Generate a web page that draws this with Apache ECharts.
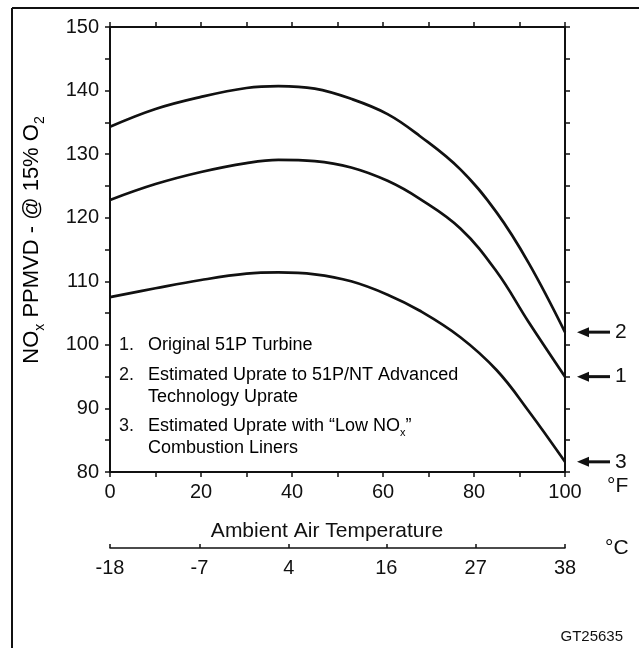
<!DOCTYPE html>
<html>
<head>
<meta charset="utf-8">
<script src="https://cdn.jsdelivr.net/npm/echarts@6/dist/echarts.min.js"></script>
<style>
  html, body { margin: 0; padding: 0; background: #fff; }
  #chart { width: 639px; height: 648px; }
</style>
</head>
<body>
<div id="chart"></div>
<script>
// ambient temperature, deg F
const tempF = [0, 10, 20, 30, 37, 45, 53, 61, 68, 77, 85, 92, 100]
// NOx ppmvd @ 15% O2
const uprate51PNT = [134.3, 137.1, 139.0, 140.4, 140.7, 140.3, 138.7, 136.3, 132.9, 127.6, 120.8, 112.9, 102.0]
const original51P = [122.8, 125.3, 127.2, 128.6, 129.1, 128.9, 127.9, 125.8, 123.0, 118.3, 111.5, 103.6, 95.0]
const lowNOx = [107.5, 108.9, 110.2, 111.2, 111.4, 111.1, 110.0, 107.9, 105.4, 101.2, 96.0, 89.6, 81.6]
// celsius scale labels
const tempCTicks = [-18, -7, 4, 16, 27, 38]

const legendLines = [
  { num: '1.', text: 'Original 51P Turbine', y: 345 },
  { num: '2.', text: 'Estimated Uprate to 51P/NT Advanced', y: 375 },
  { num: '', text: 'Technology Uprate', y: 397 },
  { num: '3.', text: 'Estimated Uprate with \u201cLow NO{s|x}\u201d', y: 426 },
  { num: '', text: 'Combustion Liners', y: 448 }
]

const FONT = '"Liberation Sans", Arial, Helvetica, sans-serif'
const INK = '#111'

const chart = echarts.init(document.getElementById('chart'), null, { renderer: 'canvas' })

const tickStyle = { color: INK, width: 1.5 }
const lineStyle = { color: INK, width: 2 }

const mkSeries = (name, vals) => ({
  name,
  type: 'line',
  data: tempF.map((f, i) => [f, vals[i]]),
  smooth: 0.4,
  symbol: 'none',
  lineStyle: { color: INK, width: 2.7 },
  silent: true,
  animation: false
})

const option = {
  backgroundColor: '#fff',
  animation: false,
  grid: { left: 110, top: 27, width: 455, height: 445 },
  xAxis: [
    {
      type: 'value', position: 'bottom', min: 0, max: 100, interval: 20,
      axisLine: { show: true, onZero: false, lineStyle },
      axisTick: { show: true, length: 5, lineStyle: tickStyle },
      minorTick: { show: true, splitNumber: 2, length: 5, lineStyle: tickStyle },
      splitLine: { show: false },
      axisLabel: { color: INK, fontSize: 20, fontFamily: FONT, margin: 10 },
      name: '\u00b0F', nameLocation: 'end', nameGap: 42,
      nameTextStyle: { color: INK, fontSize: 21, fontFamily: FONT, align: 'left', verticalAlign: 'top', padding: [4, 0, 0, 0] }
    },
    {
      type: 'value', position: 'top', min: 0, max: 100, interval: 10,
      axisLine: { show: true, onZero: false, lineStyle },
      axisTick: { show: true, length: 5, lineStyle: tickStyle },
      splitLine: { show: false },
      axisLabel: { show: false }
    },
    {
      type: 'value', position: 'bottom', offset: 76, min: -18, max: 38,
      axisLine: { show: true, onZero: false, lineStyle: { color: INK, width: 1.5 } },
      axisTick: { show: true, inside: true, length: 4, lineStyle: tickStyle, customValues: tempCTicks },
      splitLine: { show: false },
      axisLabel: { color: INK, fontSize: 20, fontFamily: FONT, margin: 10, customValues: tempCTicks },
      name: '\u00b0C', nameLocation: 'end', nameGap: 40,
      nameTextStyle: { color: INK, fontSize: 21, fontFamily: FONT, align: 'left', verticalAlign: 'middle' }
    }
  ],
  yAxis: [
    {
      type: 'value', position: 'left', min: 80, max: 150, interval: 10,
      axisLine: { show: true, onZero: false, lineStyle },
      axisTick: { show: true, length: 5, lineStyle: tickStyle },
      minorTick: { show: true, splitNumber: 2, length: 5, lineStyle: tickStyle },
      splitLine: { show: false },
      axisLabel: { color: INK, fontSize: 20, fontFamily: FONT, margin: 11 }
    },
    {
      type: 'value', position: 'right', min: 80, max: 150, interval: 10,
      axisLine: { show: true, onZero: false, lineStyle },
      axisTick: { show: true, length: 5, lineStyle: tickStyle },
      minorTick: { show: true, splitNumber: 2, length: 5, lineStyle: tickStyle },
      splitLine: { show: false },
      axisLabel: { show: false }
    }
  ],
  series: [
    mkSeries('2. Estimated Uprate to 51P/NT Advanced Technology Uprate', uprate51PNT),
    mkSeries('1. Original 51P Turbine', original51P),
    mkSeries('3. Estimated Uprate with "Low NOx" Combustion Liners', lowNOx)
  ]
}

chart.setOption(option)

const subRich = {
  a: { fontSize: 18, fontFamily: FONT, color: INK, lineHeight: 24, verticalAlign: 'middle' },
  s: { fontSize: 11, fontFamily: FONT, color: INK, lineHeight: 11, verticalAlign: 'bottom' }
}

const graphics = []

// frame (left and top edges of the figure box)
graphics.push({ type: 'line', shape: { x1: 12, y1: 8, x2: 12, y2: 648 }, style: { stroke: INK, lineWidth: 2 }, silent: true })
graphics.push({ type: 'line', shape: { x1: 12, y1: 8, x2: 639, y2: 8 }, style: { stroke: INK, lineWidth: 2 }, silent: true })

// y axis title, rotated, with subscripts
graphics.push({
  type: 'text', x: 32, y: 240, rotation: Math.PI / 2, silent: true,
  style: {
    text: '{a|NO}{s|x}{a| PPMVD - @ 15% O}{s|2}',
    align: 'center', verticalAlign: 'middle',
    rich: {
      a: { fontSize: 22, fontFamily: FONT, color: INK, lineHeight: 30, verticalAlign: 'middle' },
      s: { fontSize: 14, fontFamily: FONT, color: INK, lineHeight: 14, verticalAlign: 'bottom' }
    }
  }
})

// x axis title
graphics.push({
  type: 'text', x: 327, y: 531, silent: true,
  style: { text: 'Ambient Air Temperature', fill: INK, fontSize: 21, fontFamily: FONT, align: 'center', verticalAlign: 'middle' }
})

// legend block
legendLines.forEach(l => {
  if (l.num) {
    graphics.push({
      type: 'text', x: 119, y: l.y, silent: true,
      style: { text: l.num, fill: INK, fontSize: 18, fontFamily: FONT, align: 'left', verticalAlign: 'middle' }
    })
  }
  const t = l.text.split(/(\{s\|x\})/).map(p => p === '{s|x}' ? p : (p ? '{a|' + p + '}' : '')).join('')
  graphics.push({
    type: 'text', x: 148, y: l.y, silent: true,
    style: { text: t, align: 'left', verticalAlign: 'middle', rich: subRich }
  })
})

// figure id
graphics.push({
  type: 'text', x: 623, y: 637, silent: true,
  style: { text: 'GT25635', fill: INK, fontSize: 15, fontFamily: FONT, align: 'right', verticalAlign: 'middle' }
})

// arrows pointing at the end of each curve
const ends = [[uprate51PNT, '2'], [original51P, '1'], [lowNOx, '3']]
const xEnd = chart.convertToPixel({ xAxisIndex: 0 }, tempF[tempF.length - 1])
ends.forEach(([vals, tag]) => {
  const py = chart.convertToPixel({ yAxisIndex: 0 }, vals[vals.length - 1])
  const tip = xEnd + 12
  graphics.push({
    type: 'polygon', silent: true,
    shape: { points: [[tip, py], [tip + 12, py - 5], [tip + 12, py + 5]] },
    style: { fill: INK }
  })
  graphics.push({
    type: 'line', silent: true,
    shape: { x1: tip + 10, y1: py, x2: tip + 33, y2: py },
    style: { stroke: INK, lineWidth: 3 }
  })
  graphics.push({
    type: 'text', x: tip + 38, y: py, silent: true,
    style: { text: tag, fill: INK, fontSize: 21, fontFamily: FONT, align: 'left', verticalAlign: 'middle' }
  })
})

chart.setOption({ graphic: graphics })

window.addEventListener('resize', () => chart.resize())
</script>
</body>
</html>
